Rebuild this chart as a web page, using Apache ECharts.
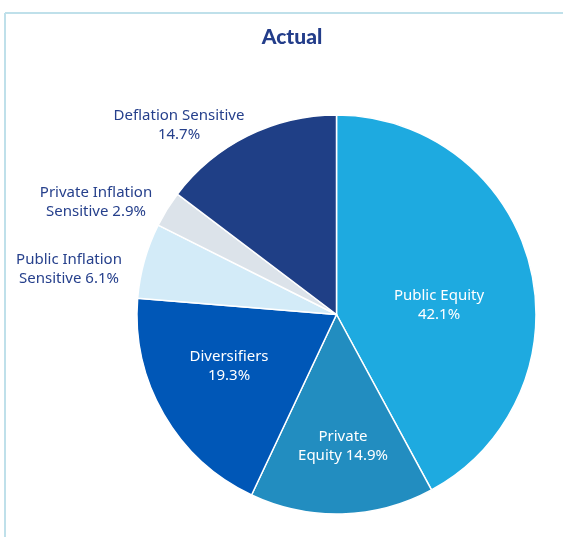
<!DOCTYPE html>
<html><head><meta charset="utf-8">
<script src="https://cdn.jsdelivr.net/npm/echarts@6/dist/echarts.min.js"></script>
<style>html,body{margin:0;padding:0;background:#fff}#c{width:563px;height:537px}</style>
</head><body><div id="c"></div>
<script>
const categories = ["Public Equity","Private Equity","Diversifiers","Public Inflation Sensitive","Private Inflation Sensitive","Deflation Sensitive"];
const values = [42.1, 14.9, 19.3, 6.1, 2.9, 14.7];
const labelTexts = ["Public Equity\n42.1%","Private\nEquity 14.9%","Diversifiers\n19.3%","Public Inflation\nSensitive 6.1%","Private Inflation\nSensitive 2.9%","Deflation Sensitive\n14.7%"];
const colors = ["#1eaae0","#228dc0","#0057b7","#d3ebf8","#dce3ea","#1f3f86"];
const insideFlags = [true,true,true,false,false,false];
const labelAnchors = [[439,305],[343,446],[229,366],[69,269],[96,202],[179,125]];

const chart = echarts.init(document.getElementById('c'), null, {renderer:'canvas'});
const data = categories.map((n,i)=>({
  name:n, value:values[i],
  itemStyle:{color:colors[i]},
  label:{color: insideFlags[i] ? '#ffffff' : '#26408c'}
}));
chart.setOption({
  animation:false,
  title:{text:'Actual', left:287, textAlign:'center', top:22,
    textStyle:{fontFamily:'Lato', fontWeight:900, fontSize:21, color:'#233d8a'}},
  graphic:[
    {type:'line', shape:{x1:5,y1:13,x2:563,y2:13}, style:{stroke:'#bfe0ea', lineWidth:2}},
    {type:'line', shape:{x1:5,y1:13,x2:5,y2:537}, style:{stroke:'#bfe0ea', lineWidth:2}}
  ],
  series:[{
    type:'pie',
    center:[336.5,314.5],
    radius:[0,199.5],
    startAngle:90,
    clockwise:true,
    itemStyle:{borderColor:'#ffffff', borderWidth:1.5},
    label:{show:true, position:'inside', formatter:p=>labelTexts[p.dataIndex],
      fontFamily:'Noto Sans', fontSize:15, lineHeight:19, align:'center'},
    labelLine:{show:false},
    labelLayout:p=>({x:labelAnchors[p.dataIndex][0], y:labelAnchors[p.dataIndex][1], align:'center', verticalAlign:'middle'}),
    data:data
  }]
});
</script></body></html>
